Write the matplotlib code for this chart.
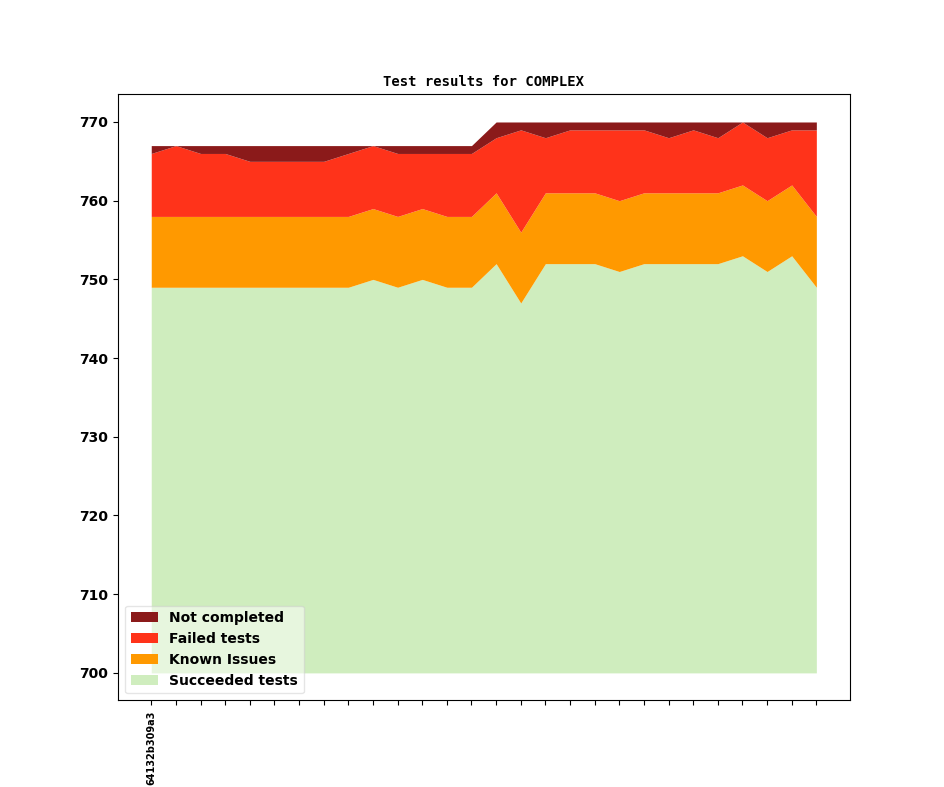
import numpy as np
import matplotlib
matplotlib.use("Agg")
import matplotlib.pyplot as plt

# values (28 revisions)
revisions = ['64132b309a3'] + [''] * 27
succeeded = [749, 749, 749, 749, 749, 749, 749, 749, 749, 750, 749, 750, 749, 749,
             752, 747, 752, 752, 752, 751, 752, 752, 752, 752, 753, 751, 753, 749]
known = [9] * 28
failed = [8, 9, 8, 8, 7, 7, 7, 7, 8, 8, 8, 7, 8, 8,
          7, 13, 7, 8, 8, 9, 8, 7, 8, 7, 8, 8, 7, 11]
not_completed = [1, 0, 1, 1, 2, 2, 2, 2, 1, 0, 1, 1, 1, 1,
                 2, 1, 2, 1, 1, 1, 1, 2, 1, 2, 0, 2, 1, 1]
base = 700

x = np.arange(len(revisions))
s = np.array(succeeded)
k = s + np.array(known)
f = k + np.array(failed)
n = f + np.array(not_completed)

fig, ax = plt.subplots(figsize=(9.44, 7.87), dpi=100)
h1 = ax.fill_between(x, base, s, color='#cfedbe', linewidth=0, label='Succeeded tests')
h2 = ax.fill_between(x, s, k, color='#ff9900', linewidth=0, label='Known Issues')
h3 = ax.fill_between(x, k, f, color='#ff331a', linewidth=0, label='Failed tests')
h4 = ax.fill_between(x, f, n, color='#8b1a1a', linewidth=0, label='Not completed')

ax.set_xticks(x)
ax.set_xticklabels(revisions, rotation=90, fontsize=7, fontweight='bold')
for lbl in ax.get_yticklabels():
    lbl.set_fontweight('bold')
    lbl.set_fontsize(10)
ax.set_title('Test results for COMPLEX', fontsize=10, fontweight='bold',
             family='DejaVu Sans Mono')
ax.legend(handles=[h4, h3, h2, h1], loc='lower left', framealpha=0.5,
          prop={'weight': 'bold', 'size': 10})

plt.savefig('out.png', dpi=100)
